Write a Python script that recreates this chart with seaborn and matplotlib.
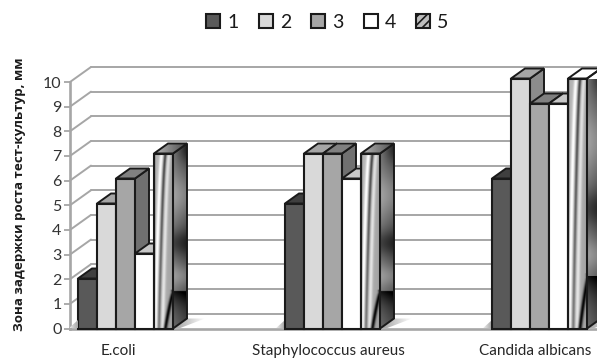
import numpy as np
import pandas as pd
import matplotlib
matplotlib.use("Agg")
import matplotlib.pyplot as plt
from matplotlib.patches import Patch, Polygon
import seaborn as sns

# Inhibition zones by culture and sample
cultures = ["E.coli", "Staphylococcus aureus", "Candida albicans"]
samples = ["1", "2", "3", "4", "5"]
zone_ecoli = [2, 5, 6, 3, 7]
zone_staph = [5, 7, 7, 6, 7]
zone_candida = [6, 10, 9, 9, 10]
y_ticks = list(range(0, 11))
y_title = "Зона задержки роста тест-культур, мм"

front_colors = ["#595959", "#d9d9d9", "#a6a6a6", "#ffffff", "#c8c8c8"]
top_colors = ["#3f3f3f", "#a6a6a6", "#808080", "#c8c8c8", "#8c8c8c"]
side_colors = ["#333333", "#8c8c8c", "#707070", "#a0a0a0", "#555555"]
GRID = "#a6a6a6"
INK = "#1a1a1a"
FONT = ["Lato", "DejaVu Sans"]

sns.set_theme(style="white")
plt.rcParams["font.family"] = FONT
plt.rcParams["hatch.linewidth"] = 1.2

W, H = 597, 358
BASE = 328.5   # pixel row of the zero line
PX_X = 207.0   # pixels per category step
PX_Y = 25.0    # pixels per value unit on the front of the bars
PX_WALL = 24.65  # pixels per value unit on the axis, which sits slightly further back
fig = plt.figure(figsize=(W / 100, H / 100), dpi=100)
wall = fig.add_axes([70 / W, (H - BASE) / H, 527 / W, 10 * PX_WALL / H], zorder=1)
ax = fig.add_axes([70 / W, (H - BASE) / H, 527 / W, 10 * PX_Y / H], zorder=2)

rows = []
for name, vals in zip(cultures, [zone_ecoli, zone_staph, zone_candida]):
    for s, v in zip(samples, vals):
        rows.append({"culture": name, "sample": s, "zone": v})
df = pd.DataFrame(rows)

BAR_W = 19 / PX_X
sns.barplot(data=df, x="culture", y="zone", hue="sample", order=cultures,
            hue_order=samples, palette=front_colors, saturation=1,
            width=BAR_W * 5, gap=0, dodge=True, legend=False, ax=ax,
            edgecolor=INK, linewidth=1.5)

xlim = (-(125.5 - 70) / PX_X, (597 - 125.5) / PX_X)
ylim = (0, 10)

# Depth of the bars and of the back wall, in data units
DX, DY = 14 / PX_X, 10 / PX_Y
WX, WY = 21 / PX_X, 15 / PX_WALL


def streak_texture(n=260, m=60):
    v, u = np.mgrid[0:1:n * 1j, 0:1:m * 1j]
    c = 0.62 - 0.36 * v ** 0.6
    img = 0.72 - 0.08 * u
    img += 0.30 * np.exp(-((u - c + 0.2) / 0.10) ** 2)
    img -= 0.38 * np.exp(-((u - c) / 0.07) ** 2) * (1.1 - 0.5 * v)
    img += 0.22 * np.exp(-((u - c - 0.2) / 0.10) ** 2)
    img -= 0.30 * np.exp(-((u - 0.015) / 0.05) ** 2)
    curve = 1.02 - 1.5 * (v - 0.8).clip(0) ** 0.8
    img -= 0.65 * np.exp(-((u - curve) / 0.10) ** 2) * (v > 0.78)
    return img.clip(0, 1)


def side_texture(n=260, m=30):
    v, u = np.mgrid[0:1:n * 1j, 0:1:m * 1j]
    img = 0.46 - 0.14 * u
    img -= 0.20 * np.exp(-((v - 0.03) / 0.07) ** 2) * u
    img += 0.18 * np.exp(-((v - 0.28) / 0.12) ** 2)
    img -= 0.20 * np.exp(-((v - 0.54) / 0.07) ** 2)
    img += 0.16 * np.exp(-((v - 0.72) / 0.06) ** 2)
    # sharp dark band near the foot that fades back to grey
    foot = (v > 0.8) * (0.42 * np.exp(-(v - 0.8) / 0.09))
    return (img - foot).clip(0, 1)


def top_texture():
    return np.linspace(0.72, 0.3, 40)[None, :]


def textured(poly, tex, z, edge=True):
    xs, ys = zip(*poly)
    im = ax.imshow(tex, cmap="gray", vmin=0, vmax=1, aspect="auto",
                   extent=(min(xs), max(xs), min(ys), max(ys)), zorder=z,
                   interpolation="bilinear")
    im.set_clip_path(Polygon(poly, closed=True, transform=ax.transData))
    if edge:
        ax.add_patch(Polygon(poly, closed=True, fc="none", ec=INK, lw=1.4,
                             zorder=z + 0.01, clip_on=False))


# Receding tick lines and the back wall
x0, x1 = xlim
for v in y_ticks:
    wall.plot([x0, x0 + WX], [v, v + WY], color=GRID, lw=1.4, clip_on=False, zorder=1)
    wall.plot([x0 + WX, x1], [v + WY, v + WY], color=GRID, lw=1.4, clip_on=False, zorder=1)

# Extruded tops and sides, painted left to right so that neighbours overlap
for s_i, cont in enumerate(ax.containers):
    for bar in cont.patches:
        x, w, h = bar.get_x(), bar.get_width(), bar.get_height()
        r = x + w
        z = 3 + s_i + x * 10
        top = [(x, h), (x + DX, h + DY), (r + DX, h + DY), (r, h)]
        side = [(r, 0), (r + DX, DY), (r + DX, h + DY), (r, h)]
        bar.set_zorder(z + 0.5)
        if s_i == 0:
            # floor shadow on the left of the group
            shade = np.linspace(0.97, 0.65, 30)[None, :]
            textured([(x - 10 / PX_X, 0), (x, 0), (x, 0.35)], shade, 2, edge=False)
        if s_i == 4:
            # floor shadow on the right of the group
            shade = np.linspace(0.62, 0.99, 30)[None, :]
            textured([(r, 0), (r + DX, DY), (r + 32 / PX_X, DY), (r + 6 / PX_X, 0)],
                     shade, 2, edge=False)
            textured(side, side_texture(), z)
            textured(top, top_texture(), z + 0.1)
            textured([(x, 0), (x, h), (r, h), (r, 0)], streak_texture(), z + 0.5)
            bar.set_facecolor("none")
            bar.set_zorder(z + 0.6)
        else:
            ax.add_patch(Polygon(side, fc=side_colors[s_i], ec=INK, lw=1.4,
                                 zorder=z, clip_on=False))
            ax.add_patch(Polygon(top, fc=top_colors[s_i], ec=INK, lw=1.4,
                                 zorder=z + 0.1, clip_on=False))

for a in (ax, wall):
    a.set_xlim(xlim)
    a.set_ylim(ylim)
for patch in ax.patches:
    patch.set_clip_on(False)
ax.axis("off")

for name in ["top", "right"]:
    wall.spines[name].set_visible(False)
for name in ["left", "bottom"]:
    wall.spines[name].set_color(GRID)
    wall.spines[name].set_linewidth(1.9)

wall.set_yticks(y_ticks)
wall.tick_params(axis="y", length=4.5, width=1.3, color=GRID, labelsize=11.5,
                 labelcolor="#333333", pad=1.5, left=True)
wall.set_xticks([(118.5 - 125.5) / PX_X, (328 - 125.5) / PX_X, (535 - 125.5) / PX_X],
                cultures)
wall.tick_params(axis="x", length=0, labelsize=11, labelcolor="#262626", pad=11)
fig.text(20 / W, 1 - 194 / H, y_title, rotation=90, ha="center", va="center",
         fontsize=9.6, fontweight="bold", color=INK, family=["Open Sans", "DejaVu Sans"])

handles = []
for s_i, s in enumerate(samples):
    if s_i == 4:
        handles.append(Patch(fc="#bdbdbd", ec=INK, lw=1.5, hatch="////", label=s))
    else:
        handles.append(Patch(fc=front_colors[s_i], ec=INK, lw=1.5, label=s))
fig.legend(handles=handles, ncol=5, loc="center", frameon=False,
           bbox_to_anchor=(327.5 / W, 1 - 22 / H), fontsize=14,
           handlelength=0.72, handleheight=0.72, handletextpad=0.35,
           columnspacing=1.05, labelcolor=INK, borderpad=0, borderaxespad=0)

fig.savefig("out.png", dpi=100, facecolor="white")
